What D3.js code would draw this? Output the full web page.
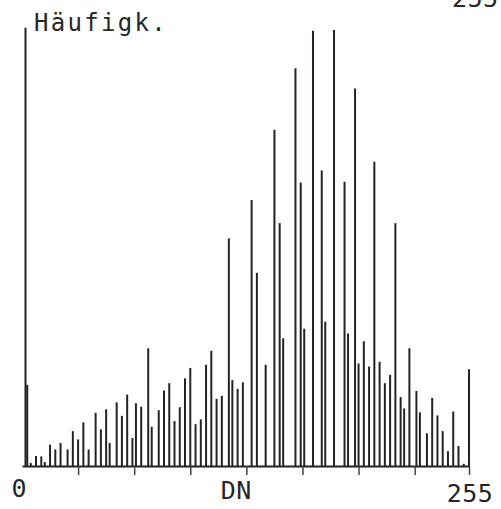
<!DOCTYPE html>
<html>
<head>
<meta charset="utf-8">
<script src="https://cdn.jsdelivr.net/npm/d3@7"></script>
<style>
  html, body { margin: 0; padding: 0; background: #fff; }
  svg { display: block; }
  text { font-family: "DejaVu Sans Mono", "Liberation Mono", monospace; fill: #262626; }
</style>
</head>
<body>
<svg id="chart" width="501" height="509"></svg>
<script>
// Grey values (DN) of the histogram bins that are occupied
const dn = [
  2, 3, 5, 8, 11, 13, 16, 19, 22, 26,
  29, 32, 35, 38, 42, 45, 48, 50, 54, 57,
  60, 63, 65, 68, 72, 74, 78, 81, 84, 87,
  90, 93, 96, 99, 102, 105, 108, 111, 114, 118,
  120, 123, 126, 131, 134, 139, 144, 147, 149, 156,
  159, 161, 166, 171, 173, 178, 184, 186, 190, 192,
  195, 198, 201, 204, 207, 210, 213, 216, 218, 221,
  225, 227, 231, 234, 237, 240, 243, 246, 249, 252,
  255
];
// Relative frequency (max = 1000)
const freq = [
  1005, 186, 7, 23, 22, 9, 49, 38, 53, 38,
  80, 61, 100, 38, 122, 84, 130, 53, 146, 115,
  164, 64, 144, 136, 270, 90, 128, 173, 190, 103,
  135, 201, 225, 96, 107, 232, 264, 154, 161, 522,
  197, 177, 192, 610, 443, 232, 771, 557, 293, 912,
  650, 315, 998, 678, 331, 1000, 652, 304, 866, 235,
  286, 228, 698, 239, 190, 209, 557, 158, 132, 270,
  172, 123, 75, 156, 116, 80, 34, 125, 46, 5,
  222
];
const tickValues = [32, 64, 96, 128, 160, 192, 224, 255];
const axisLabels = [{v: 0, t: "0", dx: -3, y: 497}, {v: 128, t: "DN", dx: -10, y: 499}, {v: 255, t: "255", dx: 1, y: 502}];
const yTitle = "Häufigk.";

const svg = d3.select("#chart");
const x = d3.scaleLinear().domain([0, 255]).range([22, 469]);
const y = d3.scaleLinear().domain([0, 1000]).range([466, 30]);

const ink = "#232323";

// bars (vertical lines)
svg.append("g")
  .selectAll("line")
  .data(dn.map((d, i) => ({d, f: freq[i]})))
  .join("line")
  .attr("x1", d => x(d.d)).attr("x2", d => x(d.d))
  .attr("y1", y(0)).attr("y2", d => y(d.f))
  .attr("stroke", ink)
  .attr("stroke-width", 2);

// x axis
const axis = d3.axisBottom(x)
  .tickValues(tickValues)
  .tickSize(9)
  .tickSizeOuter(0)
  .tickFormat("");
const gx = svg.append("g").attr("transform", `translate(0,${y(0)})`).call(axis);
gx.select(".domain").attr("stroke", ink).attr("stroke-width", 2.2);
gx.selectAll(".tick line").attr("stroke", "#444").attr("stroke-width", 1.5);

// axis labels
svg.append("g")
  .selectAll("text")
  .data(axisLabels)
  .join("text")
  .attr("x", d => x(d.v) + d.dx)
  .attr("y", d => d.y)
  .attr("text-anchor", "middle")
  .attr("font-size", 25)
  .attr("letter-spacing", d => d.v === 0 ? 0 : 0.5)
  .text(d => d.t);

// title
svg.append("text")
  .attr("x", 34)
  .attr("y", 31)
  .attr("font-size", 24)
  .attr("letter-spacing", 2.3)
  .text(yTitle);

// remnant label cut at top edge (as in the scanned original)
svg.append("text")
  .attr("x", 452)
  .attr("y", 7)
  .attr("font-size", 25)
  .attr("letter-spacing", 0.5)
  .text("255");
</script>
</body>
</html>
